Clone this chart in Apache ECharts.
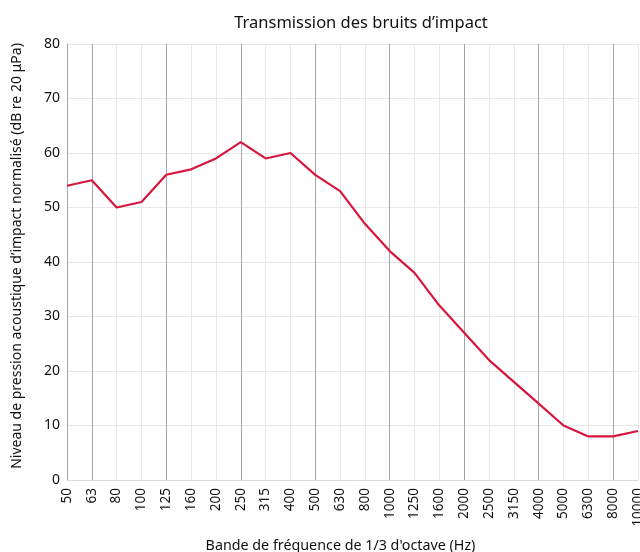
<!DOCTYPE html>
<html>
<head>
<meta charset="utf-8">
<script src="https://cdn.jsdelivr.net/npm/echarts@6/dist/echarts.min.js"></script>
<style>
  html, body { margin: 0; padding: 0; background: #fff; }
  #chart { width: 640px; height: 552px; }
</style>
</head>
<body>
<div id="chart"></div>
<script>
  const bands = ['50', '63', '80', '100', '125', '160', '200', '250', '315', '400', '500', '630',
    '800', '1000', '1250', '1600', '2000', '2500', '3150', '4000', '5000', '6300', '8000', '10000'];
  const levels = [54, 55, 50, 51, 56, 57, 59, 62, 59, 60, 56, 53,
    47, 42, 38, 32, 27, 22, 18, 14, 10, 8, 8, 9];

  const font = 'Noto Sans';
  const myChart = echarts.init(document.getElementById('chart'));

  const option = {
    animation: false,
    title: {
      text: 'Transmission des bruits d’impact',
      left: 356,
      top: 10,
      textAlign: 'center',
      textStyle: { fontFamily: font, fontSize: 16.5, fontWeight: 'normal', color: '#111' },
    },
    grid: { left: 67, right: 2, top: 44, bottom: 72, outerBoundsMode: 'none' },
    xAxis: {
      type: 'category',
      data: bands,
      boundaryGap: false,
      name: 'Bande de fréquence de 1/3 d\'octave (Hz)',
      nameLocation: 'middle',
      nameGap: 59,
      nameTextStyle: { fontFamily: font, fontSize: 14.3, color: '#111', padding: [0, 24, 0, 0] },
      axisLine: { lineStyle: { color: '#d9d9d9' } },
      axisTick: { show: false },
      axisLabel: { rotate: 90, fontFamily: font, fontSize: 13.5, color: '#111', margin: 8 },
      splitLine: {
        show: true,
        // every third band (63, 125, 250 ...) gets a darker line
        lineStyle: { color: ['#e8e8e8', '#a6a6a6', '#e8e8e8'], width: 1 },
      },
    },
    yAxis: {
      type: 'value',
      min: 0,
      max: 80,
      interval: 10,
      name: 'Niveau de pression acoustique d’impact normalisé (dB re 20 μPa)',
      nameLocation: 'middle',
      nameGap: 43,
      nameTextStyle: { fontFamily: font, fontSize: 14, color: '#111', padding: [0, 0, 0, 12] },
      axisLine: { show: true, lineStyle: { color: '#a6a6a6' } },
      axisTick: { show: false },
      axisLabel: { fontFamily: font, fontSize: 14, color: '#111', margin: 7 },
      splitLine: { lineStyle: { color: '#e8e8e8' } },
    },
    series: [
      {
        type: 'line',
        data: levels,
        symbol: 'none',
        lineStyle: { color: '#d6163c', width: 2.2 },
      },
    ],
  };

  myChart.setOption(option);
</script>
</body>
</html>
